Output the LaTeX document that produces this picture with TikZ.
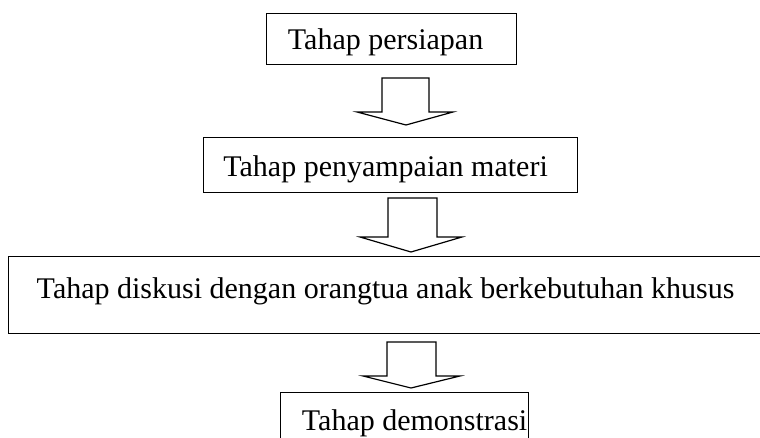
\documentclass[tikz,border=0pt]{standalone}
\usepackage{fontspec}
\setmainfont{Liberation Serif}
\tikzset{
  kotak/.style={draw, line width=1.2pt, inner sep=0pt, font=\fontsize{30}{36}\selectfont},
  panah/.style={draw, line width=1.2pt, line join=miter}
}
\begin{document}
\begin{tikzpicture}[x=1pt, y=-1pt]
    \useasboundingbox (0,0) rectangle (760,438);

    % Draw the four stages
    \node[kotak, minimum width=250pt, text height=36pt, text depth=15pt,
          anchor=north west] (persiapan) at (266,13) {Tahap persiapan\hspace*{12pt}};
    \node[kotak, minimum width=374pt, text height=39pt, text depth=16pt,
          anchor=north west] (materi) at (203,137) {Tahap penyampaian materi\hspace*{10pt}};
    \node[kotak, minimum width=772pt, text height=42pt, text depth=35pt,
          anchor=north west] (diskusi) at (8,256) {Tahap diskusi dengan orangtua anak berkebutuhan khusus\hspace*{18pt}};
    \node[kotak, minimum width=248pt, text height=38pt, text depth=20pt,
          anchor=north west] (demonstrasi) at (280,392) {\hspace*{20pt}Tahap demonstrasi};

    % Draw the block arrows between the stages
    \foreach \xl/\xr/\yt/\yb/\hl/\hr/\xt/\ytip in {382/429/78/112/357/453/406/125,
                                                  388/437/198/237/360/462/411/252,
                                                  387/436/342/376/363/460/411/388} {
        \draw[panah] (\xl,\yt) -- (\xl,\yb) -- (\hl,\yb) -- (\xt,\ytip)
                     -- (\hr,\yb) -- (\xr,\yb) -- (\xr,\yt) -- cycle;
    };
\end{tikzpicture}
\end{document}
